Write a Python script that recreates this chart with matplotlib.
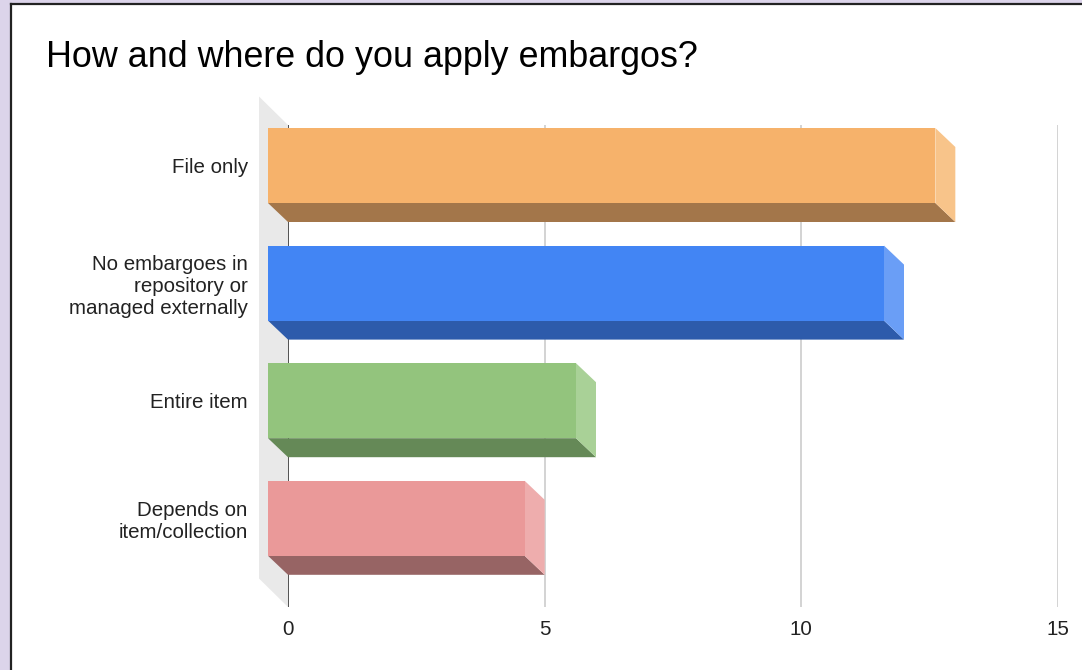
import matplotlib
matplotlib.use("Agg")
import matplotlib.pyplot as plt
from matplotlib.patches import Polygon, Rectangle
from matplotlib.lines import Line2D

plt.rcParams["font.family"] = ["Liberation Sans", "DejaVu Sans"]

categories = ["File only", "No embargoes in\nrepository or\nmanaged externally",
              "Entire item", "Depends on\nitem/collection"]
values = [13, 12, 6, 5]
front_colors = ["#f6b26b", "#4285f4", "#93c47d", "#ea9999"]
side_colors = ["#f8c48a", "#6a9ef6", "#a9d197", "#eeadad"]
bottom_colors = ["#a3764a", "#2d5bab", "#658957", "#976464"]
x_ticks = [0, 5, 10, 15]

W, H = 1082, 670
fig = plt.figure(figsize=(W / 100, H / 100), dpi=100)
fig.patch.set_facecolor("#dcd4ea")

# white card with dark border on left/top
fig.patches.append(Rectangle((11 / W, 0), 1 - 11 / W, 1 - 5 / H, transform=fig.transFigure,
                             facecolor="white", edgecolor="none", zorder=-10))
fig.lines.append(Line2D([11 / W, 11 / W], [0, 1 - 4 / H], transform=fig.transFigure,
                        color="#222222", lw=1.6, zorder=-9))
fig.lines.append(Line2D([11 / W, 1], [1 - 4 / H, 1 - 4 / H], transform=fig.transFigure,
                        color="#222222", lw=1.6, zorder=-9))

# axes placed so that 0 -> 288px, 15 -> 1058px; y from 125px to 607px
left, right, top, bottom = 288, 1058, 125, 607
ax = fig.add_axes([left / W, 1 - bottom / H, (right - left) / W, (bottom - top) / H])
ax.set_facecolor("none")
px_x = (right - left) / 15.0
px_y = 117.6
ax.set_xlim(0, 15)
y0 = (top - 184.5) / px_y
y1 = (bottom - 184.5) / px_y
ax.set_ylim(y1, y0)
for s in ax.spines.values():
    s.set_visible(False)

dxf = -20 / px_x
dyf = 19 / px_y
h = 75 / px_y

# side wall
wdx = -29 / px_x
wdy = 28.5 / px_y
ax.add_patch(Polygon([(0, y0), (0, y1), (wdx, y1 - wdy), (wdx, y0 - wdy)],
                     closed=True, facecolor="#e9e9e9", edgecolor="none",
                     clip_on=False, zorder=1))

for t in x_ticks:
    ax.axvline(t, color="#333333" if t == 0 else "#cccccc", lw=1.2, zorder=2)

for i, v in enumerate(values):
    yt = i - dyf - h / 2
    yb = i - dyf + h / 2
    ax.add_patch(Polygon([(dxf, yb), (v + dxf, yb), (v, yb + dyf), (0, yb + dyf)],
                         closed=True, facecolor=bottom_colors[i], edgecolor="none",
                         clip_on=False, zorder=3))
    ax.add_patch(Polygon([(v + dxf, yt), (v, yt + dyf), (v, yb + dyf), (v + dxf, yb)],
                         closed=True, facecolor=side_colors[i], edgecolor="none",
                         clip_on=False, zorder=3))
    ax.add_patch(Rectangle((dxf, yt), v, h, facecolor=front_colors[i],
                           edgecolor="none", clip_on=False, zorder=4))

ax.set_xticks(x_ticks)
ax.set_xticklabels([str(t) for t in x_ticks])
ax.set_yticks([i - dyf for i in range(len(categories))])
ax.set_yticklabels(categories, linespacing=1.2)
ax.tick_params(axis="x", length=0, pad=9.5, labelsize=14.8, colors="#222222")
ax.tick_params(axis="y", length=0, pad=29, labelsize=14.8, colors="#222222")

fig.text(46 / W, 1 - 67 / H, "How and where do you apply embargos?", fontsize=25.8,
         color="black", ha="left", va="baseline")

fig.savefig("out.png", dpi=100)
